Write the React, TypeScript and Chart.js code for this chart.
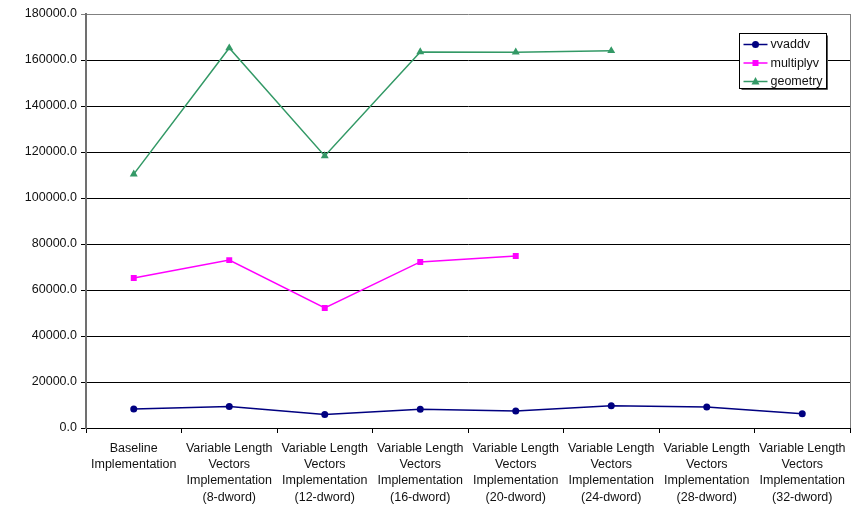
import React, { useEffect, useRef } from "react";
import { Chart, registerables } from "chart.js";

Chart.register(...registerables);

const categories: string[][] = [
  ["Baseline", "Implementation"],
  ["Variable Length", "Vectors", "Implementation", "(8-dword)"],
  ["Variable Length", "Vectors", "Implementation", "(12-dword)"],
  ["Variable Length", "Vectors", "Implementation", "(16-dword)"],
  ["Variable Length", "Vectors", "Implementation", "(20-dword)"],
  ["Variable Length", "Vectors", "Implementation", "(24-dword)"],
  ["Variable Length", "Vectors", "Implementation", "(28-dword)"],
  ["Variable Length", "Vectors", "Implementation", "(32-dword)"],
];

const vvaddv = [8300, 9300, 5900, 8100, 7400, 9700, 9100, 6200];
const multiplyv = [65200, 73000, 52200, 72200, 74800, null, null, null];
const geometry = [110400, 165200, 118300, 163500, 163400, 164000, null, null];

const yMin = 0;
const yMax = 180000;
const yStep = 20000;

const FONT = "'Liberation Sans', Arial, Helvetica, sans-serif";

type LegendEntry = { label: string; color: string; style: "circle" | "rect" | "triangle" };

const legendEntries: LegendEntry[] = [
  { label: "vvaddv", color: "#000080", style: "circle" },
  { label: "multiplyv", color: "#FF00FF", style: "rect" },
  { label: "geometry", color: "#339966", style: "triangle" },
];

function drawMarker(ctx: CanvasRenderingContext2D, style: string, x: number, y: number, color: string) {
  ctx.fillStyle = color;
  ctx.beginPath();
  if (style === "circle") {
    ctx.arc(x, y, 3.5, 0, Math.PI * 2);
  } else if (style === "rect") {
    ctx.rect(x - 3, y - 3, 6, 6);
  } else {
    ctx.moveTo(x, y - 4.5);
    ctx.lineTo(x + 4, y + 3);
    ctx.lineTo(x - 4, y + 3);
    ctx.closePath();
  }
  ctx.fill();
}

// Plot-area frame (gray right edge) and the boxed legend inside the plot
const framePlugin = {
  id: "frameAndLegend",
  afterDatasetsDraw(chart: any) {
    const { ctx, chartArea } = chart;
    ctx.save();
    ctx.strokeStyle = "#808080";
    ctx.lineWidth = 1;
    ctx.beginPath();
    ctx.moveTo(chartArea.right + 0.5, chartArea.top);
    ctx.lineTo(chartArea.right + 0.5, chartArea.bottom);
    ctx.stroke();

    const bx = Math.round(chartArea.right - 111) + 0.5;
    const by = Math.round(chartArea.top + 19) + 0.5;
    const bw = 87;
    const bh = 55;
    // shadow
    ctx.strokeStyle = "#555";
    ctx.beginPath();
    ctx.moveTo(bx + bw + 1, by + 2);
    ctx.lineTo(bx + bw + 1, by + bh + 1);
    ctx.lineTo(bx + 2, by + bh + 1);
    ctx.stroke();
    ctx.fillStyle = "#fff";
    ctx.fillRect(bx, by, bw, bh);
    ctx.strokeStyle = "#000";
    ctx.strokeRect(bx, by, bw, bh);

    ctx.font = `12.5px ${FONT}`;
    ctx.textBaseline = "middle";
    ctx.textAlign = "left";
    legendEntries.forEach((e, i) => {
      const cy = by + 11 + i * 18.5;
      ctx.strokeStyle = e.color;
      ctx.lineWidth = 1.5;
      ctx.beginPath();
      ctx.moveTo(bx + 4, cy);
      ctx.lineTo(bx + 28, cy);
      ctx.stroke();
      drawMarker(ctx, e.style, bx + 16, cy, e.color);
      ctx.fillStyle = "#111";
      ctx.fillText(e.label, bx + 31, cy + 0.5);
    });
    ctx.restore();
  },
};

export default function App() {
  const canvasRef = useRef<HTMLCanvasElement | null>(null);

  useEffect(() => {
    if (!canvasRef.current) return;
    const chart = new Chart(canvasRef.current, {
      type: "line",
      data: {
        labels: categories,
        datasets: [
          {
            label: "vvaddv",
            data: vvaddv,
            borderColor: "#000080",
            backgroundColor: "#000080",
            borderWidth: 1.5,
            pointStyle: "circle",
            pointRadius: 3.5,
            pointBorderWidth: 0,
            fill: false,
            spanGaps: false,
          },
          {
            label: "multiplyv",
            data: multiplyv,
            borderColor: "#FF00FF",
            backgroundColor: "#FF00FF",
            borderWidth: 1.5,
            pointStyle: "rect",
            pointRadius: 4.2,
            pointBorderWidth: 0,
            fill: false,
            spanGaps: false,
          },
          {
            label: "geometry",
            data: geometry,
            borderColor: "#339966",
            backgroundColor: "#339966",
            borderWidth: 1.5,
            pointStyle: "triangle",
            pointRadius: 4.6,
            pointBorderWidth: 0,
            fill: false,
            spanGaps: false,
          },
        ],
      },
      options: {
        animation: false,
        responsive: true,
        maintainAspectRatio: false,
        layout: { padding: { top: 14, right: 13, left: 0, bottom: 0 } },
        plugins: {
          legend: { display: false },
          tooltip: { enabled: false },
        },
        scales: {
          x: {
            type: "category",
            offset: true,
            grid: {
              offset: true,
              drawOnChartArea: false,
              drawTicks: true,
              tickLength: 5,
              color: "#000",
            },
            border: { color: "#000", width: 1 },
            ticks: {
              maxRotation: 0,
              minRotation: 0,
              autoSkip: false,
              padding: 7,
              color: "#111",
              font: { family: FONT, size: 12.5, lineHeight: 1.31 },
            },
            afterFit(scale: any) {
              scale.height = 77;
            },
          },
          y: {
            min: yMin,
            max: yMax,
            ticks: {
              stepSize: yStep,
              padding: 4,
              color: "#111",
              font: { family: FONT, size: 12.5 },
              callback: (v: any) => Number(v).toFixed(1),
            },
            grid: {
              color: (c: any) => (c.tick && c.tick.value === yMax ? "#808080" : "#000"),
              lineWidth: 1,
              tickLength: 5,
            },
            border: { color: "#707070", width: 2 },
            afterFit(scale: any) {
              scale.width = 86;
            },
          },
        },
      },
      plugins: [framePlugin],
    });
    return () => chart.destroy();
  }, []);

  return (
    <div style={{ position: "fixed", left: 0, top: 0, width: 863, height: 505, background: "#fff" }}>
      <canvas ref={canvasRef} />
    </div>
  );
}
